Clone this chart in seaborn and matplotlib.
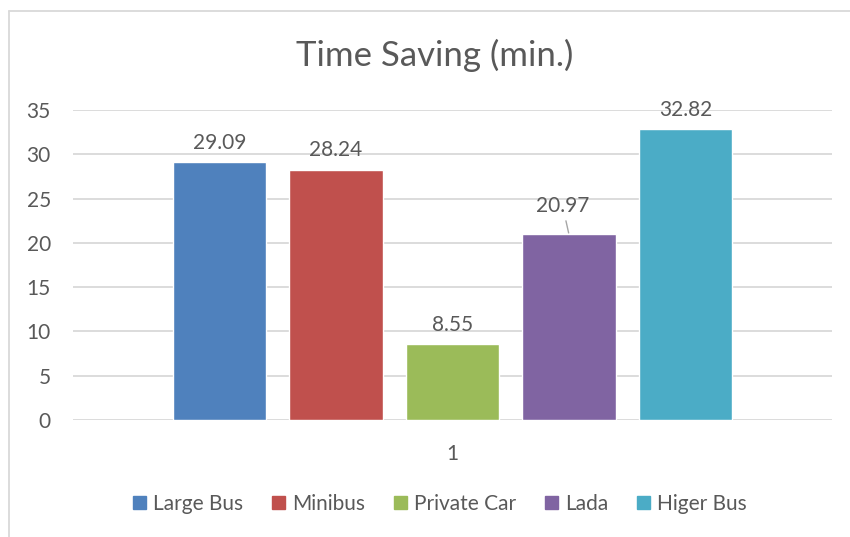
import matplotlib
matplotlib.use("Agg")
import matplotlib.pyplot as plt
import seaborn as sns
import pandas as pd
from matplotlib.patches import Rectangle
from matplotlib.lines import Line2D

categories = ["Large Bus", "Minibus", "Private Car", "Lada", "Higer Bus"]
values = [29.09, 28.24, 8.55, 20.97, 32.82]
group = ["1"] * 5
colors = ["#4F81BD", "#C0504D", "#9BBB59", "#8064A2", "#4BACC6"]
yticks = [0, 5, 10, 15, 20, 25, 30, 35]
title = "Time Saving (min.)"

df = pd.DataFrame({"group": group, "value": values, "vehicle": categories})

sns.set_theme(style="white")
FONT = ["Lato", "DejaVu Sans"]
plt.rcParams["font.family"] = FONT
TXT = "#595959"
FS = 15

W, H = 850, 537
fig = plt.figure(figsize=(W / 100, H / 100), dpi=100)
ax = fig.add_axes([73 / W, 1 - 420 / H, (832 - 73) / W, (420 - 110) / H])

sns.barplot(data=df, x="group", y="value", hue="vehicle", hue_order=categories,
            palette=colors, width=0.767, gap=0.2, ax=ax, legend=False,
            saturation=1, errorbar=None)

ax.set_xlim(-0.5, 0.5)
ax.set_ylim(0, 35)
ax.set_yticks(yticks)
ax.set_yticklabels([str(t) for t in yticks])
ax.yaxis.grid(True, color="#D9D9D9", linewidth=1.3)
ax.set_axisbelow(True)
for s in ax.spines.values():
    s.set_visible(False)
ax.tick_params(axis="y", length=0, pad=16, labelsize=FS, labelcolor=TXT)
ax.tick_params(axis="x", length=0, pad=17, labelsize=FS, labelcolor=TXT)
ax.set_xlabel("")
ax.set_ylabel("")

for i, cont in enumerate(ax.containers):
    bar = cont.patches[0]
    xc = bar.get_x() + bar.get_width() / 2
    v = values[i]
    if categories[i] == "Lada":
        ax.annotate(f"{v:.2f}", xy=(xc, v), xytext=(-4.5, 13),
                    textcoords="offset points", ha="center", va="bottom",
                    fontsize=FS, color=TXT,
                    arrowprops=dict(arrowstyle="-", color="#A6A6A6", lw=1,
                                    shrinkA=1, shrinkB=1))
    else:
        ax.annotate(f"{v:.2f}", xy=(xc, v), xytext=(0, 7),
                    textcoords="offset points", ha="center", va="bottom",
                    fontsize=FS, color=TXT)

fig.text(435 / W, 1 - 55 / H, title, ha="center", va="center",
         fontsize=25, color=TXT)

handles = [Rectangle((0, 0), 1, 1, color=c) for c in colors]
fig.legend(handles, categories, loc="center", bbox_to_anchor=(440 / W, 1 - 504 / H),
           ncol=5, frameon=False, fontsize=FS, labelcolor=TXT,
           handlelength=0.6, handleheight=0.6, handletextpad=0.35,
           columnspacing=1.4)

fig.add_artist(Line2D([9 / W, 9 / W], [0, 1 - 11 / H], transform=fig.transFigure,
                      color="#D9D9D9", lw=1.3))
fig.add_artist(Line2D([9 / W, 850 / W], [1 - 11 / H, 1 - 11 / H], transform=fig.transFigure,
                      color="#D9D9D9", lw=1.3))

fig.savefig("out.png", dpi=100, facecolor="white")
